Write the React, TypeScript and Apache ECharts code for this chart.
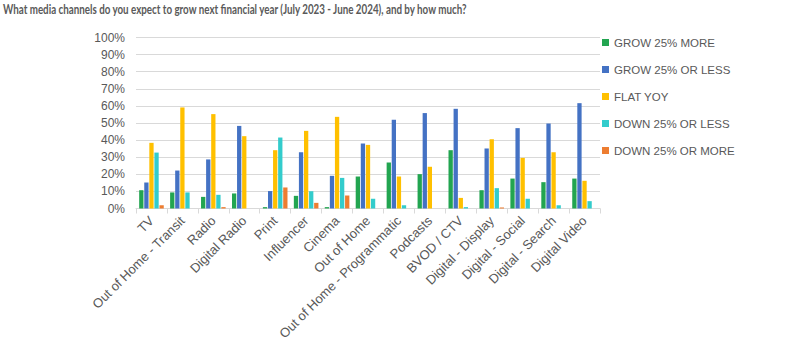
import React, { useEffect, useRef } from "react";
import * as echarts from "echarts";

const categories = [
  "TV",
  "Out of Home - Transit",
  "Radio",
  "Digital Radio",
  "Print",
  "Influencer",
  "Cinema",
  "Out of Home",
  "Out of Home - Programmatic",
  "Podcasts",
  "BVOD / CTV",
  "Digital - Display",
  "Digital - Social",
  "Digital - Search",
  "Digital Video",
];

const seriesNames = [
  "GROW 25% MORE",
  "GROW 25% OR LESS",
  "FLAT YOY",
  "DOWN 25% OR LESS",
  "DOWN 25% OR MORE",
];

const grow25More = [10.7, 9.4, 6.8, 8.8, 0.8, 7.4, 0.8, 18.7, 26.9, 20.1, 34.1, 10.7, 17.5, 15.4, 17.5];
const grow25Less = [15.2, 22.2, 28.7, 48.3, 10.2, 32.9, 19.1, 38.0, 51.9, 55.8, 58.3, 35.1, 47.0, 49.7, 61.6];
const flatYoy = [38.4, 59.1, 55.2, 42.3, 34.1, 45.4, 53.6, 37.2, 18.7, 24.4, 6.2, 40.5, 29.6, 32.9, 16.2];
const down25Less = [32.7, 9.4, 8.0, 0, 41.5, 10.1, 17.9, 5.7, 1.9, 0, 0.8, 11.9, 5.7, 1.9, 4.3];
const down25More = [1.9, 0, 0.8, 0, 12.3, 3.3, 7.6, 0, 0, 0, 0, 0.6, 0, 0, 0];

const seriesData = [grow25More, grow25Less, flatYoy, down25Less, down25More];
const colors = ["#22A550", "#4472C4", "#FFC000", "#33CCCC", "#ED7D31"];

const titleText =
  "What media channels do you expect to grow next financial year (July 2023 - June 2024), and by how much?";

export default function App() {
  const ref = useRef<HTMLDivElement>(null);
  useEffect(() => {
    if (!ref.current) return;
    const chart = echarts.init(ref.current, null, { renderer: "svg" });
    const font = "Liberation Sans";
    chart.setOption({
      animation: false,
      backgroundColor: "#ffffff",
      color: colors,
      graphic: [
        {
          type: "text",
          x: 3,
          y: 2,
          scaleX: 0.785,
          style: {
            text: titleText,
            fontFamily: "Lato",
            fontSize: 12.5,
            fontWeight: "bold",
            fill: "#5a5a5a",
            textVerticalAlign: "top",
          },
        },
      ],
      legend: {
        orient: "vertical",
        left: 597,
        top: 30.5,
        icon: "rect",
        itemWidth: 7,
        itemHeight: 7,
        itemGap: 13,
        data: seriesNames,
        textStyle: {
          fontFamily: font,
          fontSize: 11.5,
          color: "#595959",
          lineHeight: 14,
        },
      },
      grid: {
        left: 136,
        right: 200,
        top: 37.5,
        bottom: 139.5,
      },
      xAxis: {
        type: "category",
        data: categories,
        axisLine: { show: true, lineStyle: { color: "#d9d9d9", width: 1 } },
        axisTick: { show: true, alignWithLabel: false, length: 5, lineStyle: { color: "#d9d9d9" } },
        axisLabel: {
          rotate: 45,
          interval: 0,
          margin: 10,
          fontFamily: font,
          fontSize: 13,
          color: "#595959",
        },
      },
      yAxis: {
        type: "value",
        min: 0,
        max: 100,
        interval: 10,
        axisLine: { show: false },
        axisTick: { show: false },
        splitLine: { lineStyle: { color: "#d9d9d9", width: 1 } },
        axisLabel: {
          formatter: (v: number) => v + "%",
          fontFamily: font,
          fontSize: 12,
          color: "#595959",
          margin: 11,
        },
      },
      series: seriesNames.map((name, i) => ({
        name,
        type: "bar",
        data: seriesData[i],
        barWidth: 4.3,
        barGap: "18%",
        itemStyle: { color: colors[i] },
      })),
    });
    return () => chart.dispose();
  }, []);
  return (
    <div
      ref={ref}
      style={{ position: "fixed", left: 0, top: 0, width: 800, height: 348 }}
    />
  );
}
